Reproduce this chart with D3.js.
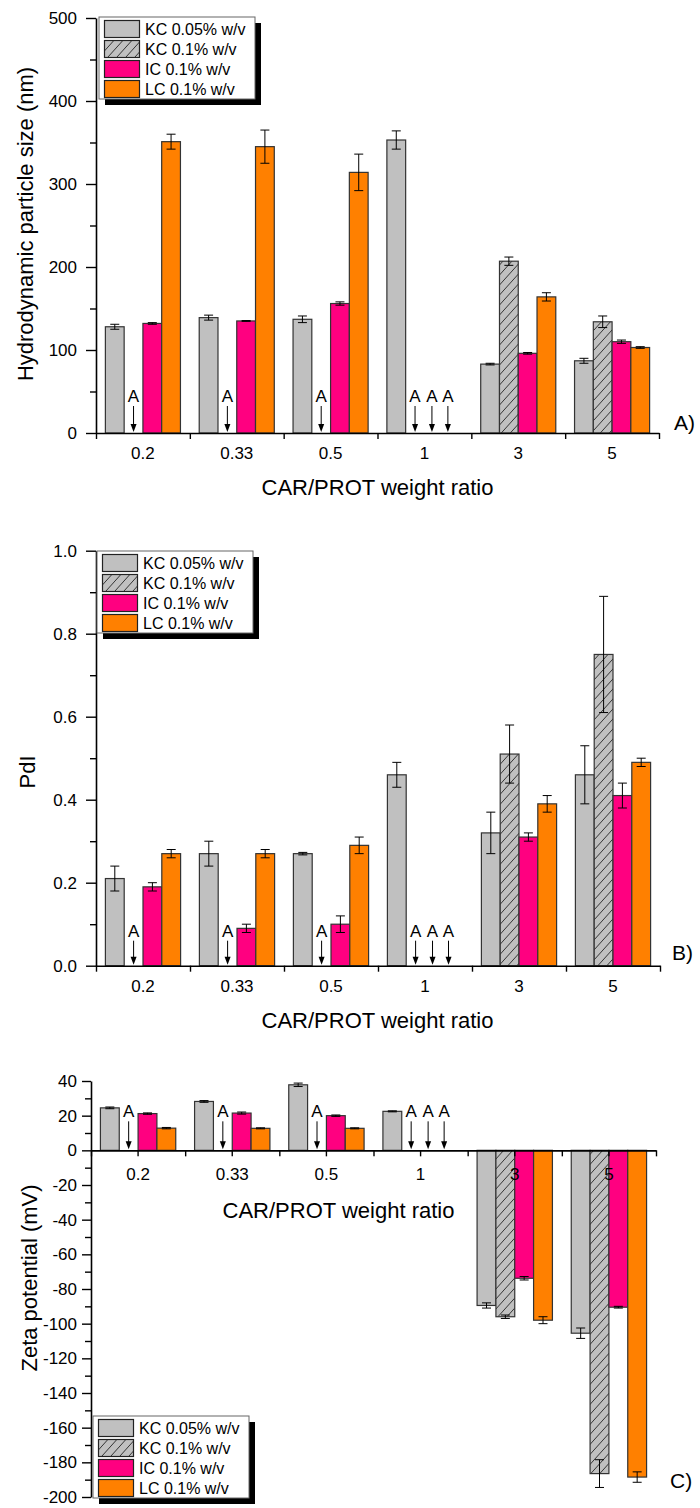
<!DOCTYPE html>
<html>
<head>
<meta charset="utf-8">
<script src="https://cdn.jsdelivr.net/npm/d3@7"></script>
<style>
  body { margin: 0; background: #fff; }
  text { font-family: "Liberation Sans", Arial, sans-serif; fill: #000; }
</style>
</head>
<body>
<script>
// categories and series
var categories = ["0.2", "0.33", "0.5", "1", "3", "5"];
var seriesNames = ["KC 0.05% w/v", "KC 0.1% w/v", "IC 0.1% w/v", "LC 0.1% w/v"];

// A) hydrodynamic particle size (nm)
var sizeKC005 = [128, 139, 137, 353, 83, 87];
var sizeKC005Err = [3, 3, 4, 11, 1, 3];
var sizeKC01 = [null, null, null, null, 207, 134];
var sizeKC01Err = [null, null, null, null, 5, 7];
var sizeIC = [132, 135, 156, null, 96, 110];
var sizeICErr = [1, 0.5, 2, null, 1, 2];
var sizeLC = [351, 345, 314, null, 164, 103];
var sizeLCErr = [9, 20, 22, null, 5, 1];

// B) PdI
var pdiKC005 = [0.21, 0.27, 0.27, 0.46, 0.32, 0.46];
var pdiKC005Err = [0.03, 0.03, 0.003, 0.03, 0.05, 0.07];
var pdiKC01 = [null, null, null, null, 0.51, 0.75];
var pdiKC01Err = [null, null, null, null, 0.07, 0.14];
var pdiIC = [0.19, 0.09, 0.10, null, 0.31, 0.41];
var pdiICErr = [0.01, 0.01, 0.02, null, 0.01, 0.03];
var pdiLC = [0.27, 0.27, 0.29, null, 0.39, 0.49];
var pdiLCErr = [0.01, 0.01, 0.02, null, 0.02, 0.01];

// C) zeta potential (mV)
var zetaKC005 = [24.5, 28.2, 37.8, 22.5, -89.5, -105.5];
var zetaKC005Err = [0.5, 0.5, 1, 0.3, 1.5, 3];
var zetaKC01 = [null, null, null, null, -96, -186.5];
var zetaKC01Err = [null, null, null, null, 1, 8];
var zetaIC = [21.2, 21.5, 20, null, -73.8, -90.5];
var zetaICErr = [0.4, 0.6, 0.4, null, 1, 0.5];
var zetaLC = [12.8, 12.7, 12.7, null, -98, -188.5];
var zetaLCErr = [0.4, 0.3, 0.3, null, 2, 3];

// "A" (aggregated) markers: category and bar slot
var aCats = ["0.2", "0.33", "0.5", "1", "1", "1"];
var aSlots = [1.5, 1.5, 1.5, 1.5, 2.4, 3.25];

// tick values
var sizeTicks = [0, 100, 200, 300, 400, 500];
var pdiTicks = [0.0, 0.2, 0.4, 0.6, 0.8, 1.0];
var zetaTicks = [40, 20, 0, -20, -40, -60, -80, -100, -120, -140, -160, -180, -200];

var fills = ["#c0c0c0", "url(#hatch)", "#ff0080", "#ff8000"];

var svg = d3.select("body").append("svg")
    .attr("width", 700)
    .attr("height", 1508);

// hatch pattern for KC 0.1%
var pat = svg.append("defs").append("pattern")
    .attr("id", "hatch")
    .attr("patternUnits", "userSpaceOnUse")
    .attr("width", 9)
    .attr("height", 10);
pat.append("rect").attr("width", 9).attr("height", 10).attr("fill", "#c0c0c0");
pat.append("path")
    .attr("d", "M0,10 L9,0 M-9,10 L0,0 M9,10 L18,0")
    .attr("stroke", "#222")
    .attr("stroke-width", 0.9);

// plain hyphen for negatives, like the original
var intFmt = function (d) { return String(d); };

function drawPanel(p) {
  var g = svg.append("g");
  var xCat = d3.scaleBand().domain(categories).range([p.x0, p.x1]);
  var bw = xCat.bandwidth();
  var xSub = d3.scaleBand().domain(d3.range(4)).range([bw * 0.1, bw * 0.9]);
  var sw = xSub.bandwidth();
  var y = d3.scaleLinear().domain(p.domain).range(p.range);
  var y0 = y(0);

  // bars
  p.series.forEach(function (vals, s) {
    categories.forEach(function (c, i) {
      var v = vals[i];
      if (v == null) return;
      var bx = xCat(c) + xSub(s);
      g.append("rect")
          .attr("x", bx)
          .attr("y", Math.min(y(v), y0))
          .attr("width", sw)
          .attr("height", Math.abs(y(v) - y0))
          .attr("fill", fills[s])
          .attr("stroke", "#333")
          .attr("stroke-width", 1.2);
      var e = p.errors[s][i];
      var cx = bx + sw / 2;
      g.append("line")
          .attr("x1", cx).attr("x2", cx)
          .attr("y1", y(v - e)).attr("y2", y(v + e))
          .attr("stroke", "#000").attr("stroke-width", 1);
      [v - e, v + e].forEach(function (ev) {
        g.append("line")
            .attr("x1", cx - 4.5).attr("x2", cx + 4.5)
            .attr("y1", y(ev)).attr("y2", y(ev))
            .attr("stroke", "#000").attr("stroke-width", 1);
      });
    });
  });

  // "A" markers with arrows
  aCats.forEach(function (c, k) {
    var ax = xCat(c) + bw * 0.1 + aSlots[k] * sw;
    g.append("text")
        .attr("x", ax)
        .attr("y", y0 - p.aBase)
        .attr("text-anchor", "middle")
        .style("font-size", "17px")
        .text("A");
    g.append("line")
        .attr("x1", ax).attr("x2", ax)
        .attr("y1", y0 - p.aBase + 4).attr("y2", y0 - 8)
        .attr("stroke", "#000").attr("stroke-width", 1);
    g.append("path")
        .attr("d", "M" + (ax - 3) + "," + (y0 - 9) + " L" + (ax + 3) + "," + (y0 - 9) + " L" + ax + "," + (y0 - 1) + "Z")
        .attr("fill", "#000");
  });

  // y axis: minor ticks then major ticks
  var minorY = g.append("g")
      .attr("transform", "translate(" + p.x0 + ",0)")
      .call(d3.axisLeft(y).tickValues(p.minor).tickSize(6).tickSizeOuter(0).tickFormat(""));
  minorY.select(".domain").remove();
  var majorY = g.append("g")
      .attr("transform", "translate(" + p.x0 + ",0)")
      .call(d3.axisLeft(y).tickValues(p.ticks).tickSize(p.ySize).tickSizeOuter(0)
        .tickPadding(p.yPad).tickFormat(p.fmt));
  majorY.selectAll("text").style("font-size", "17px");

  // x axis: boundary ticks
  var xb = d3.scaleLinear().domain([0, categories.length]).range([p.x0, p.x1]);
  g.append("g")
      .attr("transform", "translate(0," + y0 + ")")
      .call(d3.axisBottom(xb).tickValues(d3.range(categories.length + 1)).tickSize(6).tickSizeOuter(0).tickFormat(""));
  // category labels
  var xl = g.append("g")
      .attr("transform", "translate(0," + y0 + ")")
      .call(d3.axisBottom(xCat).tickSize(p.centerTicks ? 6 : 0).tickSizeOuter(0).tickPadding(p.xPad));
  xl.select(".domain").remove();
  xl.selectAll("text").style("font-size", "17px");

  svg.selectAll(".domain").attr("stroke-width", 1.6);
  svg.selectAll(".tick line").attr("stroke-width", 1.4);

  // titles
  g.append("text")
      .attr("x", p.xTitleX)
      .attr("y", p.xTitleY)
      .attr("text-anchor", "middle")
      .style("font-size", "22px")
      .text("CAR/PROT weight ratio");
  g.append("text")
      .attr("transform", "translate(" + p.yTitleX + "," + p.yTitleY + ") rotate(-90)")
      .attr("text-anchor", "middle")
      .style("font-size", "22px")
      .text(p.yTitle);
  g.append("text")
      .attr("x", p.labelX)
      .attr("y", p.labelY)
      .style("font-size", "21px")
      .text(p.label);

  // legend
  var lg = g.append("g").attr("transform", "translate(" + p.legX + "," + p.legY + ")");
  lg.append("rect").attr("x", 6).attr("y", 6).attr("width", 156).attr("height", 82).attr("fill", "#000");
  lg.append("rect").attr("width", 156).attr("height", 82).attr("fill", "#fff")
      .attr("stroke", "#666").attr("stroke-width", 1);
  seriesNames.forEach(function (n, s) {
    lg.append("rect")
        .attr("x", 5.5).attr("y", 3.5 + s * 20)
        .attr("width", 35).attr("height", 17)
        .attr("fill", fills[s]).attr("stroke", "#222").attr("stroke-width", 1.2);
    lg.append("text")
        .attr("x", 46).attr("y", 18 + s * 20)
        .style("font-size", "16px")
        .text(n);
  });
}

drawPanel({
  x0: 96, x1: 659, domain: [0, 500], range: [433, 18],
  series: [sizeKC005, sizeKC01, sizeIC, sizeLC],
  errors: [sizeKC005Err, sizeKC01Err, sizeICErr, sizeLCErr],
  ticks: sizeTicks, minor: [50, 150, 250, 350, 450], fmt: intFmt,
  ySize: 10, yPad: 9, xPad: 14, centerTicks: false, aBase: 31,
  xTitleX: 377.5, xTitleY: 495, yTitleX: 33, yTitleY: 224,
  yTitle: "Hydrodynamic particle size (nm)",
  label: "A)", labelX: 674, labelY: 430, legX: 99, legY: 17
});

drawPanel({
  x0: 96, x1: 660, domain: [0, 1], range: [965.7, 550.7],
  series: [pdiKC005, pdiKC01, pdiIC, pdiLC],
  errors: [pdiKC005Err, pdiKC01Err, pdiICErr, pdiLCErr],
  ticks: pdiTicks, minor: [0.1, 0.3, 0.5, 0.7, 0.9], fmt: d3.format(".1f"),
  ySize: 10, yPad: 9, xPad: 14, centerTicks: false, aBase: 29,
  xTitleX: 377.5, xTitleY: 1028, yTitleX: 35, yTitleY: 772,
  yTitle: "PdI",
  label: "B)", labelX: 672, labelY: 960, legX: 97, legY: 551
});

drawPanel({
  x0: 91, x1: 656, domain: [-200, 40], range: [1497, 1081],
  series: [zetaKC005, zetaKC01, zetaIC, zetaLC],
  errors: [zetaKC005Err, zetaKC01Err, zetaICErr, zetaLCErr],
  ticks: zetaTicks, minor: d3.range(-190, 40, 20), fmt: intFmt,
  ySize: 9, yPad: 5, xPad: 12, centerTicks: true, aBase: 33,
  xTitleX: 338.5, xTitleY: 1218, yTitleX: 37, yTitleY: 1278,
  yTitle: "Zeta potential (mV)",
  label: "C)", labelX: 670, labelY: 1488, legX: 93, legY: 1416
});
</script>
</body>
</html>
